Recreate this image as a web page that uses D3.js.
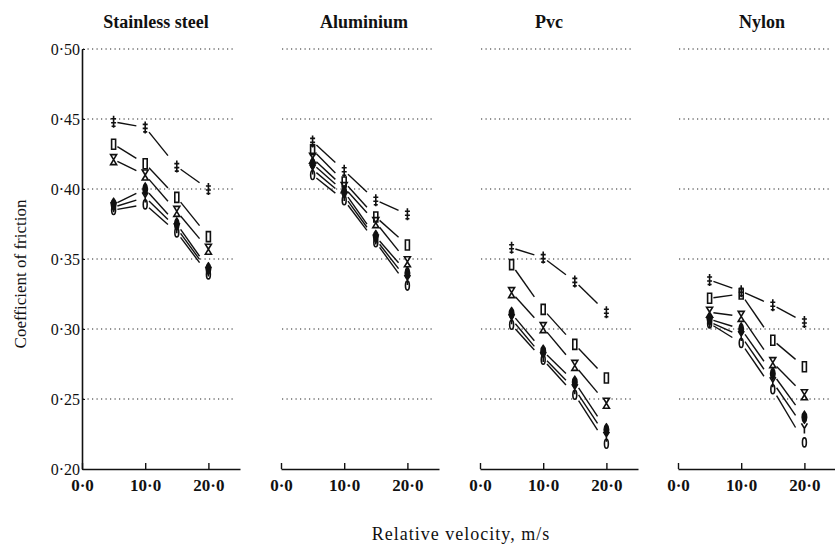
<!DOCTYPE html>
<html><head><meta charset="utf-8">
<script src="https://cdn.jsdelivr.net/npm/d3@7"></script>
<style>body{margin:0;background:#fff}svg{display:block}text{font-family:"Liberation Serif","DejaVu Serif",serif;fill:#111}</style>
</head><body><svg id="c" width="835" height="550"></svg>
<script>
const materials = ["Stainless steel", "Aluminium", "Pvc", "Nylon"];
const velocities = [5, 10, 15, 20];
const markerTypes = ["dbar", "rect", "hourglass", "filled", "ybar", "oval"];
const yTicks = [0.20, 0.25, 0.30, 0.35, 0.40, 0.45, 0.50];
const yTickLabels = ["0·20", "0·25", "0·30", "0·35", "0·40", "0·45", "0·50"];
const xTicks = [0, 10, 20];
const xTickLabels = ["0·0", "10·0", "20·0"];

// friction coefficients, one row per series (marker type), columns = velocities
const stainlessSteel = [
  [0.448, 0.444, 0.416, 0.400],
  [0.432, 0.418, 0.394, 0.366],
  [0.421, 0.410, 0.384, 0.357],
  [0.389, 0.400, 0.375, 0.343],
  [0.387, 0.394, 0.372, 0.341],
  [0.385, 0.389, 0.369, 0.339]
];
const aluminium = [
  [0.434, 0.413, 0.392, 0.382],
  [0.428, 0.405, 0.380, 0.360],
  [0.422, 0.401, 0.376, 0.348],
  [0.418, 0.398, 0.366, 0.340],
  [0.414, 0.395, 0.364, 0.335],
  [0.410, 0.392, 0.362, 0.331]
];
const pvc = [
  [0.358, 0.351, 0.334, 0.312],
  [0.346, 0.314, 0.289, 0.265],
  [0.326, 0.301, 0.274, 0.247],
  [0.311, 0.284, 0.262, 0.228],
  [0.307, 0.280, 0.257, 0.223],
  [0.303, 0.278, 0.253, 0.218]
];
const nylon = [
  [0.335, 0.327, 0.317, 0.305],
  [0.322, 0.325, 0.292, 0.273],
  [0.312, 0.309, 0.276, 0.253],
  [0.307, 0.300, 0.268, 0.237],
  [0.305, 0.295, 0.262, 0.229],
  [0.304, 0.290, 0.257, 0.219]
];
const panelData = [stainlessSteel, aluminium, pvc, nylon];

const svg = d3.select("#c");
const panelLeft = [82, 281, 480, 678];
const titleX = [156, 364, 549, 762];
const panelW = 158;
const y = d3.scaleLinear().domain([0.20, 0.50]).range([469, 49]);

function markerPath(type) {
  switch (type) {
    case "dbar": return "M0,-6V6M-2.5,-3H2.5M-2.5,1H2.5M-2,4.5H2";
    case "rect": return "M-2,-5H2V5H-2Z";
    case "hourglass": return "M-3,-5H3L-3,5H3Z";
    case "filled": return "M0,-6C3,-3 3,3 0,6C-3,3 -3,-3 0,-6Z";
    case "ybar": return "M-3,-5L0,0L3,-5M0,0V5";
    case "oval": return "M0,-4.5C2.6,-4.5 2.6,4.5 0,4.5C-2.6,4.5 -2.6,-4.5 0,-4.5Z";
  }
}

materials.forEach((name, p) => {
  const x0 = panelLeft[p];
  const x = d3.scaleLinear().domain([0, 25]).range([x0, x0 + panelW]);
  const g = svg.append("g");

  // dotted grid
  g.selectAll("line.grid").data(yTicks.slice(1)).join("line")
    .attr("x1", x0 + 1).attr("x2", x0 + panelW - 4)
    .attr("y1", d => y(d)).attr("y2", d => y(d))
    .attr("stroke", "#222").attr("stroke-width", 1.1).attr("stroke-dasharray", "1.2,3.3");

  // x axis
  const xa = d3.axisBottom(x).tickValues(xTicks).tickFormat((d, i) => xTickLabels[i]).tickSizeInner(-6).tickSizeOuter(0).tickPadding(10);
  const ax = g.append("g").attr("transform", `translate(0,${y(0.20)})`).call(xa);
  ax.select(".domain").attr("stroke", "#111").attr("stroke-width", 1.6);
  ax.selectAll(".tick line").attr("stroke", "#111").attr("stroke-width", 1.4);
  ax.selectAll(".tick text").attr("font-size", 17).attr("font-weight", "bold")
    .attr("font-family", '"Liberation Serif",serif').attr("fill", "#111");

  if (p === 0) {
    const ya = d3.axisLeft(y).tickValues(yTicks).tickFormat((d, i) => yTickLabels[i]).tickSizeInner(-3).tickSizeOuter(0).tickPadding(2);
    const ay = g.append("g").attr("transform", `translate(${x0},0)`).call(ya);
    ay.select(".domain").attr("stroke", "#111").attr("stroke-width", 1.6);
    ay.selectAll(".tick line").attr("stroke", "#111");
    ay.selectAll(".tick text").attr("font-size", 16)
      .attr("font-family", '"Liberation Serif",serif').attr("fill", "#111");
  }

  // title
  g.append("text").attr("x", titleX[p]).attr("y", 28).attr("text-anchor", "middle")
    .attr("font-size", 18).attr("font-weight", "bold").text(name);

  // series: gapped connecting segments + markers
  panelData[p].forEach((vals, s) => {
    const segs = d3.pairs(vals.map((v, i) => [velocities[i], v]));
    g.selectAll(null).data(segs).join("line")
      .attr("x1", d => x(d[0][0] + (d[1][0] - d[0][0]) * 0.12))
      .attr("y1", d => y(d[0][1] + (d[1][1] - d[0][1]) * 0.12))
      .attr("x2", d => x(d[0][0] + (d[1][0] - d[0][0]) * 0.72))
      .attr("y2", d => y(d[0][1] + (d[1][1] - d[0][1]) * 0.72))
      .attr("stroke", "#111").attr("stroke-width", 1.4);
    const type = markerTypes[s];
    const filled = type === "filled";
    g.selectAll(null).data(vals).join("path")
      .attr("transform", (d, i) => `translate(${x(velocities[i])},${y(d)})`)
      .attr("d", markerPath(type))
      .attr("fill", filled ? "#111" : "#fff").attr("fill-opacity", filled ? 1 : 0.0)
      .attr("stroke", "#111").attr("stroke-width", 1.6);
  });
});

svg.append("text").attr("transform", "translate(26,274) rotate(-90)").attr("text-anchor", "middle")
  .attr("font-size", 17).text("Coefficient of friction");
svg.append("text").attr("x", 461).attr("y", 540).attr("text-anchor", "middle")
  .attr("font-size", 18).attr("letter-spacing", 1).text("Relative velocity, m/s");
</script></body></html>
